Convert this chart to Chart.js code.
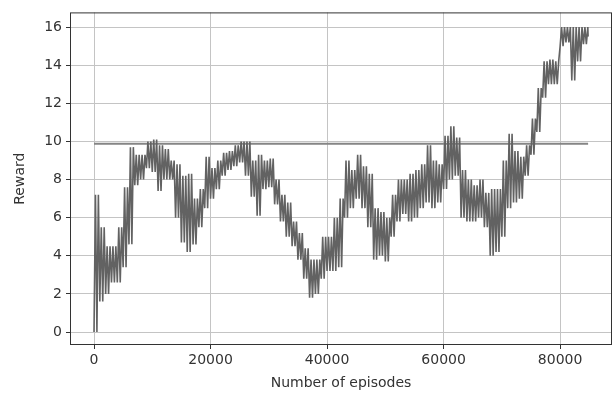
<!DOCTYPE html>
<html>
<head>
<meta charset="utf-8">
<script src="https://cdn.jsdelivr.net/npm/chart.js@4/dist/chart.umd.min.js"></script>
<style>
    html, body { margin: 0; padding: 0; background: #fff; }
    #wrap { width: 615px; height: 396px; }
</style>
</head>
<body>
<div id="wrap"><canvas id="rewardChart"></canvas></div>
<script>
// Episodes (start of each 1000-episode bucket)
const episodes = [0, 1000, 2000, 3000, 4000, 5000, 6000, 7000, 8000, 9000,
    10000, 11000, 12000, 13000, 14000, 15000, 16000, 17000, 18000, 19000,
    20000, 21000, 22000, 23000, 24000, 25000, 26000, 27000, 28000, 29000,
    30000, 31000, 32000, 33000, 34000, 35000, 36000, 37000, 38000, 39000,
    40000, 41000, 42000, 43000, 44000, 45000, 46000, 47000, 48000, 49000,
    50000, 51000, 52000, 53000, 54000, 55000, 56000, 57000, 58000, 59000,
    60000, 61000, 62000, 63000, 64000, 65000, 66000, 67000, 68000, 69000,
    70000, 71000, 72000, 73000, 74000, 75000, 76000, 77000, 78000, 79000,
    80000, 81000, 82000, 83000, 84000];

// Lowest reward seen in each bucket
const rewardLow = [0, 1.6, 2.0, 2.6, 2.6, 3.4, 4.6, 7.7, 8.0, 8.6,
    8.4, 7.4, 8.0, 8.0, 6.0, 4.7, 4.2, 4.6, 5.5, 6.5,
    7.0, 7.5, 8.2, 8.5, 8.7, 8.9, 8.2, 7.1, 6.1, 7.5,
    7.6, 6.7, 5.8, 5.0, 4.5, 3.8, 2.8, 1.8, 2.0, 2.8,
    3.2, 3.2, 3.4, 6.0, 6.5, 7.0, 6.5, 5.5, 3.8, 4.0,
    3.7, 5.0, 5.8, 6.2, 5.8, 6.0, 6.5, 6.8, 6.5, 6.8,
    7.5, 8.0, 8.2, 6.0, 5.8, 5.8, 6.0, 5.5, 4.0, 4.2,
    5.0, 6.5, 6.8, 7.0, 8.2, 9.3, 10.5, 12.3, 13.0, 13.0,
    15.0, 15.2, 13.2, 14.2, 15.1];

// Highest reward seen in each bucket
const rewardHigh = [7.2, 5.5, 4.5, 4.5, 5.5, 7.6, 9.7, 9.3, 9.3, 10.0,
    10.1, 9.8, 9.6, 9.0, 8.8, 8.2, 8.3, 7.0, 7.5, 9.2,
    8.6, 9.0, 9.4, 9.5, 9.8, 10.0, 10.0, 9.0, 9.3, 9.0,
    9.1, 8.0, 7.2, 6.8, 5.8, 5.2, 4.4, 3.8, 3.8, 5.0,
    5.0, 6.0, 7.0, 9.0, 8.5, 9.3, 8.7, 8.3, 6.5, 6.3,
    6.0, 7.2, 8.0, 8.0, 8.3, 8.5, 8.8, 9.8, 9.0, 8.8,
    10.3, 10.8, 10.2, 8.5, 8.0, 7.7, 8.0, 7.3, 7.5, 7.5,
    9.0, 10.4, 9.5, 9.2, 9.8, 11.2, 12.8, 14.2, 14.3, 14.2,
    16.0, 16.0, 16.0, 16.0, 16.0];

const lastEpisode = 84800;
const lastReward = 15.5;
const baselineReward = 9.88;

const xTicks = [0, 20000, 40000, 60000, 80000];
const yTicks = [0, 2, 4, 6, 8, 10, 12, 14, 16];

// the raw curve swings between the low and high of each bucket many times,
// so go up and down twice per bucket
const rewardPoints = [];
episodes.forEach((ep, i) => {
    rewardPoints.push({ x: ep, y: rewardLow[i] });
    rewardPoints.push({ x: ep + 250, y: rewardHigh[i] });
    rewardPoints.push({ x: ep + 500, y: rewardLow[i] });
    rewardPoints.push({ x: ep + 750, y: rewardHigh[i] });
});
rewardPoints.push({ x: lastEpisode, y: lastReward });

const boxPlugin = {
    id: 'box',
    afterDraw(chart) {
        const a = chart.chartArea;
        const ctx = chart.ctx;
        ctx.save();
        ctx.strokeStyle = '#333';
        ctx.lineWidth = 1;
        ctx.strokeRect(a.left + 0.5, a.top + 0.5, a.right - a.left - 1, a.bottom - a.top - 1);
        ctx.restore();
    }
};

Chart.defaults.font.family = '"DejaVu Sans", sans-serif';
Chart.defaults.color = '#333';

new Chart(document.getElementById('rewardChart'), {
    type: 'line',
    data: {
        datasets: [{
            data: rewardPoints,
            borderColor: '#626262',
            borderWidth: 1.6,
            pointRadius: 0,
            tension: 0
        }, {
            data: [{ x: 0, y: baselineReward }, { x: lastEpisode, y: baselineReward }],
            borderColor: '#858585',
            borderWidth: 2,
            pointRadius: 0
        }]
    },
    plugins: [boxPlugin],
    options: {
        responsive: true,
        maintainAspectRatio: false,
        animation: false,
        layout: { padding: { top: 10, right: 3, left: 8, bottom: 0 } },
        plugins: {
            legend: { display: false },
            tooltip: { enabled: false }
        },
        scales: {
            x: {
                type: 'linear',
                min: -4120,
                max: 88900,
                afterBuildTicks: (scale) => { scale.ticks = xTicks.map(v => ({ value: v })); },
                afterFit: (scale) => { scale.height = 51; },
                grid: { color: '#c4c4c4', lineWidth: 1, tickColor: '#333', tickLength: 4 },
                border: { display: false },
                ticks: { font: { size: 14 }, padding: 3, maxRotation: 0, callback: v => String(v) },
                title: { display: true, text: 'Number of episodes', font: { size: 14 }, padding: { top: 2 } }
            },
            y: {
                min: -0.68,
                max: 16.77,
                afterBuildTicks: (scale) => { scale.ticks = yTicks.map(v => ({ value: v })); },
                afterFit: (scale) => { scale.width = 62; },
                grid: { color: '#c4c4c4', lineWidth: 1, tickColor: '#333', tickLength: 4 },
                border: { display: false },
                ticks: { font: { size: 14 }, padding: 4 },
                title: { display: true, text: 'Reward', font: { size: 14 }, padding: { bottom: 6 } }
            }
        }
    }
});
</script>
</body>
</html>
